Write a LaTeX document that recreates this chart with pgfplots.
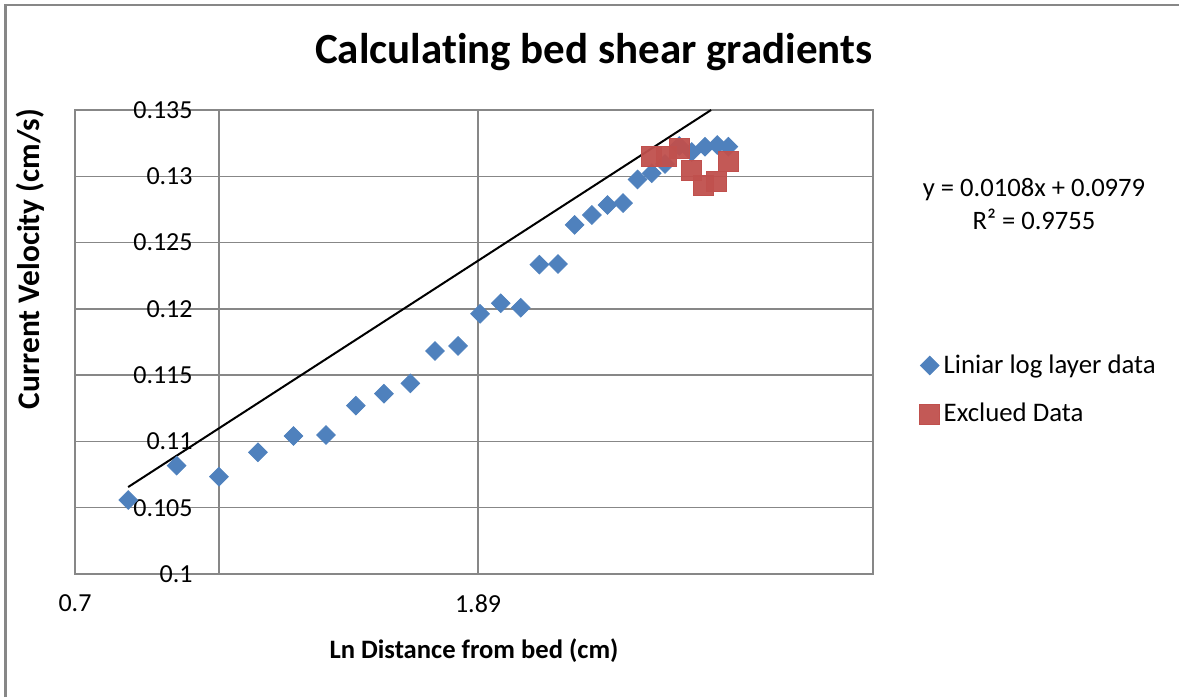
\documentclass[border=0pt]{standalone}
\usepackage{pgfplots}
\pgfplotsset{compat=1.18}
\usepackage{fontspec}
\setmainfont[Ligatures={NoCommon,NoDiscretionary}]{Carlito}
\definecolor{xblue}{HTML}{4F81BD}
\definecolor{xred}{HTML}{C0504D}
\definecolor{xgrid}{HTML}{878787}
\begin{document}
\begin{tikzpicture}[x=1pt,y=1pt]
\path[use as bounding box] (0,0) rectangle (589.5,348.5);
\draw[xgrid, line width=1.2pt] (2.7,0) -- (2.7,346) -- (589.5,346);
\begin{axis}[
  at={(37.5pt,61.5pt)}, anchor=south west,
  scale only axis, width=399pt, height=232pt,
  xmin=0.7, xmax=3.056, ymin=0.1, ymax=0.135,
  xtick={0.7,1.89}, xticklabels={0.7,1.89},
  extra x ticks={1.125}, extra x tick labels={},
  extra x tick style={grid=major},
  ytick={0.1,0.105,0.11,0.115,0.12,0.125,0.13,0.135},
  yticklabels={0.1,0.105,0.11,0.115,0.12,0.125,0.13,0.135},
  grid=major,
  major grid style={xgrid, line width=0.75pt},
  axis line style={xgrid, line width=0.75pt},
  major tick length=0pt,
  /pgf/number format/assume math mode=true,
  tick label style={font=\fontsize{13}{15}\selectfont, text=black},
  yticklabel style={anchor=east, inner sep=0pt, xshift=59pt},
  xticklabel style={anchor=north, inner sep=0pt, yshift=-10pt},
  title={Calculating bed shear gradients},
  title style={font=\fontsize{21.5}{25}\selectfont\bfseries, at={(0.650,1.099)}, anchor=center},
  xlabel={Ln Distance from bed (cm)},
  xlabel style={font=\fontsize{13.3}{15}\selectfont\bfseries, at={(0.5,-0.166)}, anchor=center},
  ylabel={Current Velocity (cm/s)},
  ylabel style={font=\fontsize{15.7}{18}\selectfont\bfseries, at={(-0.0564,0.679)}, anchor=center},
  legend style={draw=none, fill=none, at={(1.058,0.397)}, anchor=west,
    font=\fontsize{13.4}{15}\selectfont, row sep=9.5pt, inner sep=0pt},
  legend cell align=left,
  legend image code/.code={\draw[#1] plot coordinates {(0.12cm,0cm)};},
  clip=true,
]
\addplot[only marks, mark=square*, mark size=3.3pt, color=xblue, mark options={rotate=45, fill=xblue, draw=xblue}] coordinates {
(0.857,0.10558) (1.000,0.10817) (1.125,0.10734) (1.240,0.10918)
(1.345,0.11041) (1.441,0.11049) (1.529,0.11270) (1.612,0.11360)
(1.690,0.11438) (1.763,0.11682) (1.831,0.11720) (1.896,0.11963)
(1.957,0.12042) (2.016,0.12009) (2.071,0.12333) (2.126,0.12338)
(2.175,0.12633) (2.226,0.12708) (2.272,0.12783) (2.318,0.12798)
(2.361,0.12976) (2.403,0.13023) (2.442,0.13093) (2.484,0.13229)
(2.521,0.13183) (2.560,0.13223) (2.596,0.13236) (2.629,0.13223)
};
\addlegendentry{Liniar log layer data}
\addplot[only marks, mark=square*, mark size=5pt, color=xred, mark options={fill=xred, draw=xred, fill opacity=0.95}] coordinates {
(2.403,0.13153) (2.447,0.13148) (2.484,0.13211) (2.521,0.13047)
(2.555,0.12934) (2.595,0.12959) (2.629,0.13110)
};
\addlegendentry{Exclued Data}
\addplot[black, line width=1pt, forget plot] coordinates {(0.857,0.10656) (2.578,0.135)};
\end{axis}
\node[align=center, font=\fontsize{13.3}{16.5}\selectfont] at (517,246.5) {y = 0.0108x + 0.0979\\R² = 0.9755};
\end{tikzpicture}
\end{document}
